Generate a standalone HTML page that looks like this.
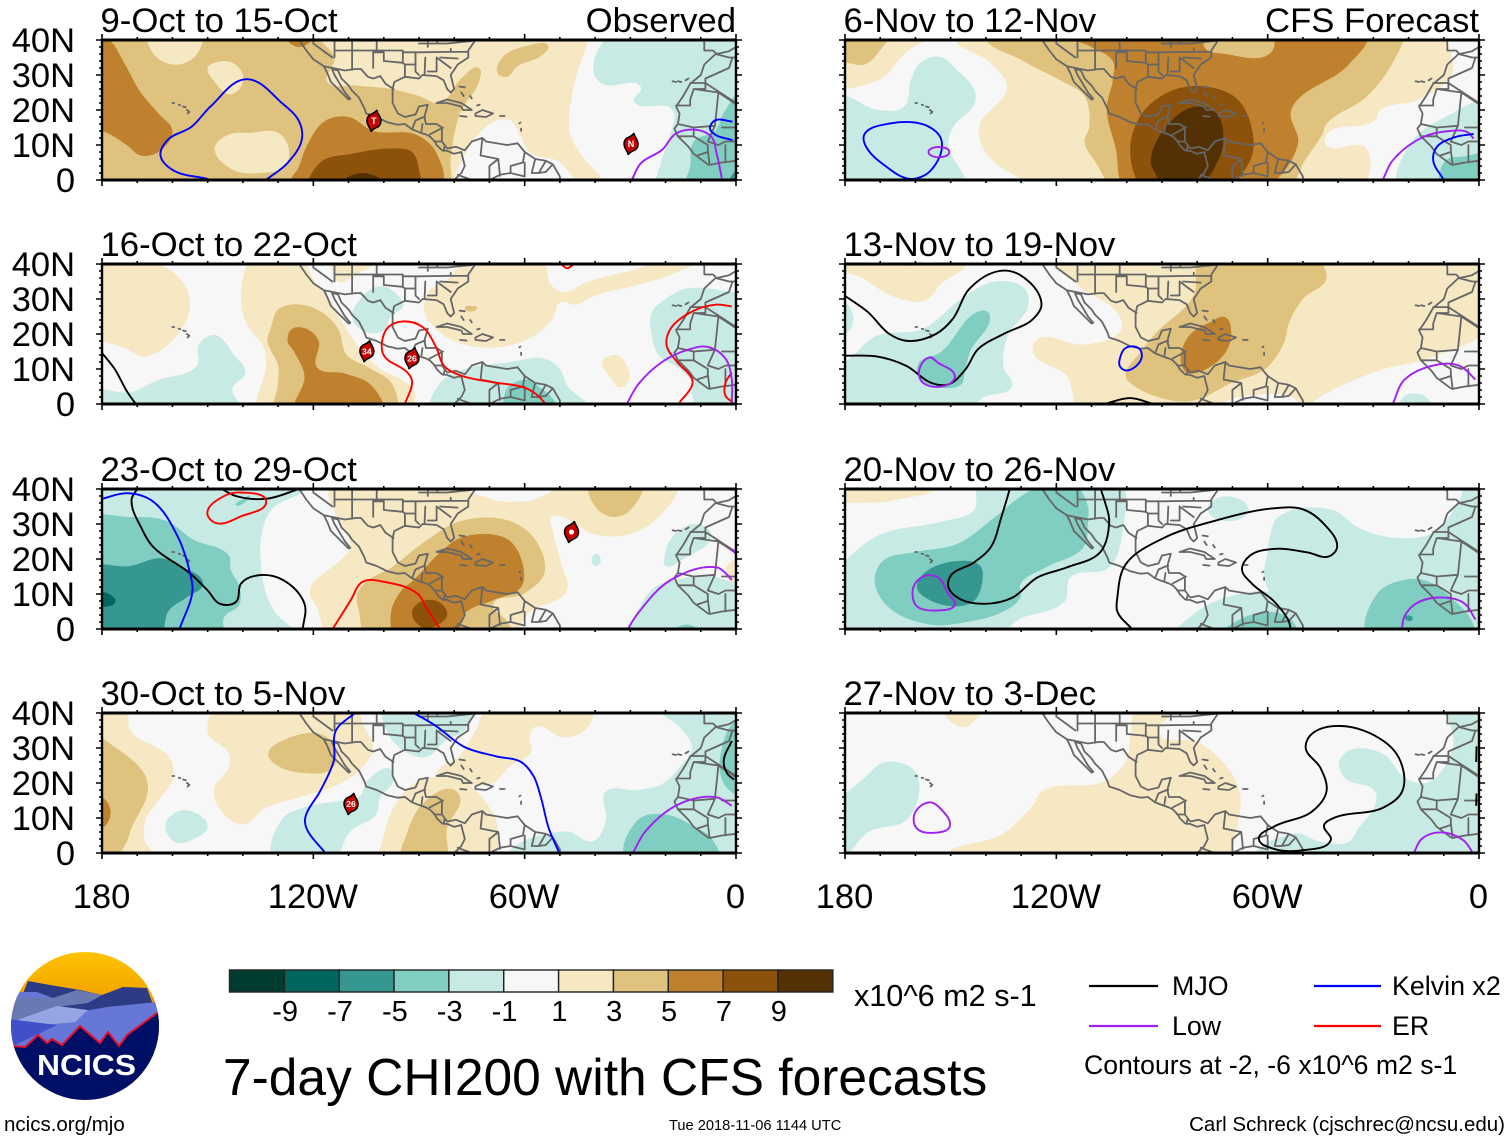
<!DOCTYPE html>
<html lang="en">
<head>
<meta charset="utf-8">
<title>7-day CHI200 with CFS forecasts</title>
<style>
html,body{margin:0;padding:0;background:#fff;width:1510px;height:1141px;overflow:hidden}
svg{display:block}
text{font-family:"Liberation Sans",Arial,sans-serif;fill:#000}
</style>
</head>
<body>
<svg id="chart" xmlns="http://www.w3.org/2000/svg" width="1510" height="1141" viewBox="0 0 1510 1141">
<defs>
<clipPath id="logo-clip"><circle cx="85" cy="1026" r="74"/></clipPath>
<linearGradient id="sun" x1="0" y1="0" x2="0" y2="1"><stop offset="0" stop-color="#ffc400"/><stop offset="0.3" stop-color="#f2a500"/><stop offset="0.35" stop-color="#e08a10"/></linearGradient>
</defs>
<g>
<g clip-path="url(#logo-clip)">
<rect x="10" y="950" width="150" height="152" fill="url(#sun)"/>
<polygon points="28,981 50,985 80,990 102,995 123,987 147,988 162,1030 8,1030" fill="#2d3a85"/>
<polygon points="20,992 37,992 53,998 15,999" fill="#6677d4"/>
<polygon points="15,998 53,998 77,990 102,995 88,1003 57,1007 17,1020 8,1021" fill="#6b79b3"/>
<polygon points="8,1022 50,1017 90,1010 107,1007 157,1002 162,1050 8,1052" fill="#6677d8"/>
<polygon points="17,1020 57,1006 88,1010 75,1022 43,1025" fill="#97a4e4"/>
<polygon points="8,1019 57,1025 15,1045 8,1048" fill="#3f50c8"/>
<polygon points="8,1046 13,1046 25,1047 38,1035 47,1043 52,1039 62,1045 80,1026 100,1043 108,1032 119,1046 127,1035 157,1013 165,1008 165,1105 8,1105" fill="#000f66"/>
<polyline points="13,1046 25,1047 38,1035 47,1043 52,1039 62,1045 80,1026 100,1043 108,1032 119,1046 127,1035 157,1013" fill="none" stroke="#e8102a" stroke-width="2"/>
</g>
<text x="37" y="1075" font-size="29" font-weight="700" textLength="99" lengthAdjust="spacingAndGlyphs" style="fill:#fff">NCICS</text>
</g>
<text x="4" y="1131" font-size="20.5">ncics.org/mjo</text>
<text x="223" y="1095" font-size="51.5">7-day CHI200 with CFS forecasts</text>
<text x="669" y="1130" font-size="14.65">Tue 2018-11-06 1144 UTC</text>
<text x="1505" y="1131" font-size="20.5" text-anchor="end">Carl Schreck (cjschrec@ncsu.edu)</text>
<text x="854" y="1006" font-size="30.6">x10^6 m2 s-1</text>
<g>
<line x1="1089" y1="986" x2="1158" y2="986" stroke="#000" stroke-width="2.2"/>
<text x="1172" y="995" font-size="26.8">MJO</text>
<line x1="1314" y1="986" x2="1381" y2="986" stroke="#0000ff" stroke-width="2.2"/>
<text x="1392" y="995" font-size="26.8">Kelvin x2</text>
<line x1="1089" y1="1026" x2="1158" y2="1026" stroke="#a020f0" stroke-width="2.2"/>
<text x="1172" y="1035" font-size="26.8">Low</text>
<line x1="1314" y1="1026" x2="1381" y2="1026" stroke="#ff0000" stroke-width="2.2"/>
<text x="1392" y="1035" font-size="26.8">ER</text>
<text x="1084" y="1074" font-size="26.6">Contours at -2, -6 x10^6 m2 s-1</text>
</g>
</svg>
<script>
// All longitudes in fills, lines and storms are degrees east of the dateline:
// 0 = 180, 60 = 120W, 120 = 60W, 180 = 0. Latitudes are degrees north.
const panelTitles = ["9-Oct to 15-Oct","16-Oct to 22-Oct","23-Oct to 29-Oct","30-Oct to 5-Nov","6-Nov to 12-Nov","13-Nov to 19-Nov","20-Nov to 26-Nov","27-Nov to 3-Dec"];
const panelTags = ["Observed","","","","CFS Forecast","","",""];
const latTicks = [0,10,20,30,40];
const latTickLabels = ["0","10N","20N","30N","40N"];
const lonTicks = [0,60,120,180];
const lonTickLabels = ["180","120W","60W","0"];
const bandEdges = [-9,-7,-5,-3,-1,1,3,5,7,9];
const bandColors = ["#003c30","#01665e","#35978f","#80cdc1","#c7eae5","#f7f7f7","#f6e8c3","#dfc27d","#bf812d","#8c510a","#543005"];
const colorbarLabels = ["-9","-7","-5","-3","-1","1","3","5","7","9"];
const lineColors = {mjo:"#000000",kelvin:"#0000ff",low:"#a020f0",er:"#ff0000"};

// Each filled region: [band value, [lon,lat, lon,lat, ...]]
const fillsOct09 = [
[2,[-10,50,140,50,138,40,134,27,133,13,137,6,142,0,143,-8,-10,-8]],
[0,[101,-3,104,9,111,16.5,116,17,118.5,13,122,7.5,130,5,134,-3]],
[-2,[145,42,139.5,31,142,27.5,153,26.5,151,22.5,162,20,161,12,159,6,158,-3,190,-3,190,42]],
[-4,[182,25,177,20,174,14,168,11,167,4,166,-3,190,-3]],
[-6,[178,-3,180,3,185,6,185,-3]],
[4,[-10,50,57,50,62,40,66,35,64,28,72,27,82,26,90,24,96,22,102,29,107,32,107,28,102,20,100,13,99,6,98,-3,-10,-3]],
[4,[112.3,30.5,113.7,35,120.5,38.3,126.7,38.3,124.7,35.5,117.8,32.4,115,29.5]],
[2,[13,43,14,37,17,34,22,33,27,36,28,43]],
[2,[30,32,32,33.5,37,33.5,40,30,39,26,36,24.5,32,28]],
[2,[32,9,36,13,42,13.5,50,13.5,53,9,52,4,45,2,37,3]],
[6,[-5,42,2,40,6,34,11,25,16,19,20,14,16,8,11,7,7,10,0,14,-5,14]],
[6,[53,-3,56,4,58,9.5,63.5,17,70,18,77,14,89,13,94.5,8.5,96,-3]],
[6,[52,42,56,38,60,42]],
[8,[59,-3,62,5,71,7.5,82.5,9,88,8,90,3,90,-3]],
[10,[68,-2,74,2,80,-2]]
];
const fillsOct16 = [
[2,[-5,42,13,41,22,36,25,29,23,22,12,13.5,6.5,16,-5,21]],
[2,[43,42,56,42,61,34,64.6,30,67,25.5,71,19,74,15,79,10,85,7,88.5,4,87,-3,44,-3,44,1.5,46.5,10,46,16,41,23,39.5,31]],
[2,[105,42,125,41,127.5,34,131,32,138,35,150,38,169,41.5,164,38,152,34,140,31,134.6,28.4,130,29,128,24.5,123,19.7,113.6,16.3,101.7,17.3,95.7,20.7,91.5,26.4,92.7,32,98,35.6]],
[2,[66,42,78,42,72,37,67,35]],
[2,[142,12,146,14,149,11,149.5,6.5,147,4.8,144,8]],
[4,[103,27.5,105,28,106.5,27.5,104.5,26.4]],
[4,[49.5,-3,50,6,50,11,47,18,48,22,50,27,55,28.5,62,26.5,67,21.5,69.5,14,75.5,10.5,82.5,5.5,83,-3]],
[6,[55,-3,57.5,8,54.5,15,52.7,18,54,21.5,58,21.5,61.5,18,61,10.5,69,8.7,76.5,5.3,79.5,-3]],
[-2,[-5,3,8.5,3.5,15.5,6.7,27,11,27.5,17,32,19.7,37.5,14,40.7,9,37,4.3,40,-3,-5,-3]],
[-2,[71,24.5,72.5,29,79,33.7,84.5,30.5,85.5,28,82,25,80,21,75,20.5]],
[-2,[93.5,-3,96,6,101.7,9.6,116,12,125.6,13,130,10,132,5.3,139,-3]],
[-2,[156,26,160,30,166,33,180,32,190,32,190,-3,170,-3,167.5,3,167.5,6,164,10,158,14,156,20]],
[-4,[114,1,115,4.5,118,6.5,121,7,124,5,128,1.5,130,-3,114,-3]]
];
const fillsOct23 = [
[-2,[-5,42,58,42,48,34,45.5,28,45,20,46.6,10,49,5,55,-3,-5,-3]],
[-4,[-5,31,8,32,18,31,26,25.5,36,21,36.5,17,39,12,39,7,34.7,3.4,34,-3,-5,-3]],
[-4,[38,35.5,40,37,42,38,41,36.5]],
[-6,[-5,17,8,18,16.7,20.2,22.7,17.8,28.7,13,24,9,19,5.3,16,-3,-5,-3]],
[-8,[-3,10,2,10,3.8,7.7,0,6.2,-3,6]],
[-2,[149,-3,152,5,157,12,165,14.5,172,15.5,177,14,185,12,185,-3]],
[-2,[159.7,20.6,162,26.4,168.5,30,173,27,165,20,160,18]],
[-2,[139,20,140.5,21.5,141.5,19,140,18]],
[-4,[162,-2,166,1.3,170,-2]],
[2,[180,20,177,17,178,14,185,14,185,20]],
[2,[65,42,67,31,70.6,23.5,68,20,59,11,61,6,65,-3,116,-3,121,4.5,132,11,130.4,18.5,128,28,127.5,32,130.5,32,140,27,149.5,27,158,32,163,42]],
[0,[103,42,111,37,118,36.4,124,37.4,129,42]],
[4,[138.5,42,140,35,145,32,150,34,153,42]],
[4,[72.4,9.6,74.8,13.3,82.5,17.8,91,24.5,101.7,30.8,116,30.8,123,25.5,125.6,16,119.6,10,111,7,114.8,2.4,117,-3,75.4,-3,73,5]],
[6,[82,4.3,85,11,88.5,14,95.7,21.6,101.7,26,111,27,116,25,119.6,17.8,119,12,111,8.2,102.9,4.3,100.5,-3,83.7,-3]],
[8,[88,4.8,91,8,95.7,7.7,98,4.3,95.7,1.4,91,0.5]]
];
const fillsOct30 = [
[2,[-5,42,6.6,42,8,35,19,27.5,20.3,21.6,16,15,12.6,10,12,4,15,-3,-5,-3]],
[2,[33,42,30,34.5,36,28.4,36,24.5,31.7,17.8,34.7,11,40,8.2,46.6,13,56,15.9,68,20,74,24.5,77,30,74,37,72,43]],
[2,[110,42,139,42,138,36,131.6,33,123,36,121.4,33,122,29,116,25,111,20,103,19.5,95,22,101.7,28,106,35]],
[2,[79.5,-3,80,5,84,15,91,21,103,20,110,13,112.4,7,110,-3]],
[4,[85.5,-3,86.7,6,91,14,99.3,18.3,101.7,15.9,98,7.2,97,-3]],
[4,[-5,37,0,33,12,22.6,13,17.8,8.4,7.2,6.6,2.4,2,-3,-5,-3]],
[6,[-3,16,0,16,2.4,12,0.6,7.5,-3,7]],
[4,[47.2,28.4,52.6,32.7,62,34,65.7,31,65.7,24.5,56,23,49,25.5]],
[-2,[18,8,22,12,26.5,11.5,30,7.5,26,4,21,3]],
[-2,[49,-3,51.4,10,57.4,13,68,15,73,16,75.4,20.7,82,24,82.5,20,79,16,77.8,11,70.6,6.2,65,-3]],
[-2,[80,42,81.3,34,86,29,92,27.4,98,32.5,103,35,105,42]],
[-2,[16,42,19,39.5,22,42]],
[-2,[115,-3,131.6,6.2,139.4,3.4,143,9,143,17.5,152,18,159,19.7,164,24.5,167.5,30,164,36,157,43,190,43,190,-3]],
[-4,[185,40,179,37,176,30,175.5,23,178,18,185,16]],
[-4,[149,-3,152.3,9.6,160,11,168.7,7.2,173,4.3,175,-3]]
];
const fillsNov06 = [
[2,[-5,28,9.4,28.5,18,37,22.5,39.5,30,42,-5,42]],
[2,[31,42,41.8,33,46,26.6,38,15,41,6.5,62,-3,146,-3,148,9,136.7,10,136.7,13,150.4,17,152,20,163,23,172.5,31,168,42]],
[4,[-5,42,12,42,9.5,36.5,5.6,33,0,33.5,-5,33]],
[-2,[-5,25,0,24.2,9.4,20,16.8,21,18.7,28.5,21.2,33.3,26.8,35.2,31.8,31.4,36.8,25.6,36.8,21.8,30.6,15,29.3,10.3,33.7,-3,-5,-3]],
[-2,[157.5,-3,161,11,170.4,18,185,22,185,-3]],
[-4,[169.8,-3,170.4,5.5,175.4,6.7,185,7,185,-3]],
[4,[40,42,50.6,34,62,28,68,24,69.3,15,68,11,71.2,5,77,-3,125.5,-3,130.5,5.5,135.5,13,136.7,16,148,23.7,156,34.5,158,42]],
[6,[64,42,70,38,76,34,76,28.5,74.3,20.3,76.8,9.4,80,-3,118,-3,128.6,10.3,126.7,20,143,33,148,42]],
[4,[103,42,102,38,108,36,121,36.5,121,42]],
[8,[81,7.5,84.3,19,93,25.6,103,26.6,111.7,22.8,116,11.3,115,5.5,107,-3,85.5,-3]],
[10,[86.8,5.5,91.8,16,99.3,20.9,105.5,19,107.4,11.3,105.5,4.6,99.3,-3,91.8,-3,88,2]]
];
const fillsNov13 = [
[2,[-5,42,35,42,27,34,23,29.6,14,30.6,4.2,36.3,-5,40]],
[2,[60,42,66,34,77.3,26,78.5,21.4,67.7,17,54.6,18.5,53.4,14.7,63,8,67,-3,104,-3,107.3,0.3,117,2.7,126.5,2.2,131.3,-1,133.7,1.2,153,10,165,12.8,185,24,185,42]],
[4,[101,42,133,42,136.7,36,130,30,126,23,124.7,17.6,119.3,10,109.7,6,99,1,91.7,1.2,81,6,79.7,8,84,15,88,20,99,31]],
[4,[14,42,18,39.5,23,42]],
[6,[95.3,12.8,97.7,19.5,103.7,23.4,108,24.8,109.7,20.5,108,14.7,101.3,9.4,97.1,9]],
[-2,[-5,10,0,12,9,19.5,22,21.4,33,30,42.6,35,51,33,52,28,46.2,19.5,45,10.8,47.4,5,39,1.7,35,-3,-5,-3]],
[-2,[-3,29,0,29,2.4,24,0,20,-3,20]],
[-2,[157.5,-3,158.5,2,162,3,165.5,1.5,166.5,-3]],
[-4,[21,11.8,27,14.7,39,26.7,41,25.7,35.4,14.7,34,8.9,33,5.6,28,4.6,21,7.5]]
];
const fillsNov20 = [
[2,[-5,42,26,42,15,37,0,36,-5,36]],
[-2,[-5,14,0,19.5,10,27,27,30.6,36.6,34,38,42,78,42,79,29.5,75,17.6,64,14.7,62.4,8,47.4,1.2,46,-3,-5,-3]],
[-2,[103,34,107,37.8,114.5,34.4,111,31]],
[-2,[120.5,26,123,32,138.5,34,145.7,29,156.5,26,167,27.5,174.5,37,177,43,190,43,190,-3,132,-3,125,3,121.8,8,119,15,120,22]],
[-2,[94,-3,100,5,112,10,122,10,127,3,130,-3]],
[-4,[8.4,13.7,10.8,19.5,20,22,31.8,24.3,42.6,32,49.8,37.8,55.8,41,65.4,41,69,35,69,31,67.7,23.4,57,17.6,49.8,12.8,49.8,9,45,5,33,1.7,24.6,1.2,12.6,6]],
[-4,[106.7,-3,112,2.7,123,4.6,127.8,1.2,128,-3]],
[-4,[148.7,-3,151,10,157.7,13.8,165,13.8,172,9,178,2.2,178.7,-3]],
[-6,[20.4,11.8,22.2,15.7,33,19.5,38.4,18,39,13.8,36.6,8,30.6,6.5,22.2,9.4]],
[-6,[159,3.5,161,3.5,161,2.5,159.5,2.5]]
];
const fillsNov27 = [
[-2,[-5,-3,0,-1,6.6,6,17.4,9.4,21,16.8,19.8,23.4,11.4,26,5.4,21.4,0,17,-5,15]],
[-2,[116,-3,127.7,5.6,135,3.2,143,3.2,145.7,7,150.5,13.7,150.5,17.6,142,21.4,140.3,26.2,144,29.6,153,28.2,159,21.4,165,20,168.5,22.3,172.7,31,172,43,190,43,190,-3]],
[2,[28,42,33,36,36,37,38.5,42]],
[2,[28,-3,45,5.6,53.4,13.7,55.8,17.6,73.7,20.5,79.7,26,81,33,83.3,42,93,42,89,34,100,31.8,108.5,24.5,112,17.6,112,11,106.7,-3]]
];
const panelFills = [fillsOct09,fillsOct16,fillsOct23,fillsOct30,fillsNov06,fillsNov13,fillsNov20,fillsNov27];

// Each contour: [wave type, closed(1)/open(0), [lon,lat, ...]]
const linesOct09 = [
["kelvin",0,[30,0.3,20,2.9,16.6,7,18.6,11.4,25.4,15.2,30.8,21,41,28.8,51.2,21.9,56,16.7,56.7,11.4,52.6,4.8,46.5,0]],
["kelvin",0,[179,16.7,174,17,172.6,14.8,174,13,179,11.4]],
["low",0,[150.4,0,153,4.8,159,8.6,163,13.3,169,14.3,173,12.4,174.5,7.6,176,0.5]]
];
const linesOct16 = [
["mjo",0,[0,14.6,3.6,10,7.2,3.4,9.6,0]],
["er",0,[86,0,88,6.7,86.7,9,80,13.9,79.5,17.8,81.3,22,85.5,23.6,91,22,95,15.9,97,11,101.7,8.2,111,6.2,119.6,4.8,123,3,126,0]],
["er",0,[130.4,40,132,38.8,134,40]],
["er",0,[178.8,27.9,174.5,28.4,167.5,26.4,161.5,21.6,160.3,16.8,163.3,12,167.5,7.2,167.5,5.3,164,0.5]],
["er",0,[178.8,9,177,6,177,2.4,179,0.5]],
["low",0,[149,0,152,5.3,159,12,166,15.4,172,16.3,177,13,178.8,7,178.8,0.5]]
];
const linesOct23 = [
["mjo",0,[10,40,8.4,37,11.4,28.4,14.4,23.6,25,15.9,30,11,33.5,7.2,38,7.7,39.5,13,44,15.3,51.4,14,57.5,7.2,57,0]],
["mjo",0,[34,40,38,38,46.6,37.2,56,40]],
["kelvin",0,[0,37.2,7.2,38.8,14.4,36.5,21.5,26.4,25,15.9,25.7,11,22,0]],
["er",1,[29.9,33.2,34.7,38,39.5,39,46.6,36.5,39.5,32.2,32.3,30.3]],
["er",0,[65.5,0,70.6,8.2,74,13.5,80,13.5,89.7,10,92,6.2,95.7,0.5]],
["low",0,[149.3,0,152,4.3,161.5,14,174.6,17.6,177,16,178.8,14]],
["low",0,[178.5,23,180,21.5]]
];
const linesOct30 = [
["kelvin",0,[63.4,0,58,7.2,57.7,10,62,17.8,65.8,26.4,66.4,35,71.8,40]],
["kelvin",0,[88.5,40,94.5,36.5,102.9,30.3,112,27.6,119,26,122.5,22,124.6,15.9,126.8,7.2,129.8,0]],
["mjo",0,[178.8,32,176.5,26.4,177.6,22.6,179.4,21]],
["low",0,[150.7,0,154.3,6.2,163.9,14,174.6,15.9,178.8,13.5]]
];
const linesNov06 = [
["kelvin",1,[18.7,0.3,12,3.6,5.6,10.3,5.6,13.2,11.9,16,23,15.6,27.4,11.3,24.3,2.7]],
["low",1,[23.7,8,26.2,9.4,29.6,8,26.2,6.5]],
["low",0,[152.7,0,155.4,5.5,164,12.2,171.7,14,176.7,13.7,178.5,11.8]],
["kelvin",0,[169.8,0.3,167,5.5,168,9.4,173,12.2,178.5,13.2]]
];
const linesNov13 = [
["mjo",0,[0,30.9,6.6,26.2,12.6,20,18,18,25.8,20,30.6,24.3,35.4,33,43.8,38,49.8,36.8,55.8,28.7,53.4,24.3,45,20,37.8,15.7,34.2,9.9,29.4,5.6,24.6,6,17.4,10.9,9,13.6,0,13.8]],
["mjo",0,[73.7,0,81,1.7,87.5,0]],
["low",1,[21,9.4,24,13.3,26.4,11.8,31.2,8,29.4,5.6,22.2,6]],
["kelvin",1,[78,12.8,79.7,16,83.3,16,84.3,13.8,82.7,10.9,79.7,9.6,78,10.9]],
["low",0,[155.5,0,158.9,7,168.5,11.3,174.5,10.9,179,7]]
];
const linesNov20 = [
["mjo",0,[46.8,40,44.4,32,41.4,23.4,36.6,19,30,15.2,29.4,11.8,33,8.4,40,7.2,47.4,8.9,54.6,14.7,63,17.6,72.5,22,75,31,73.8,36.3,72.6,40]],
["mjo",0,[81.5,0,77.3,5,77.3,8.9,79.7,18.5,90.5,26,104.9,30.9,121.7,34.5,130,34.2,136,30,139.7,23.4,137.3,20.7,131.3,21.9,121.7,22.9,115,21,112.7,17,115.7,12.8,121.7,8,126,2.2,126.5,0]],
["low",1,[19.8,12.8,22.8,15.2,26.4,14.7,29.4,9.9,31.2,7,25.8,5.3,20.4,6.5,19.2,9.4]],
["low",0,[158.1,0,158.8,3.5,162,7.2,168.5,9,175.6,7.5,179,2.7]]
];
const linesNov27 = [
["low",1,[19.8,11.3,24,14.5,27,12.8,29.7,7.5,25.8,5.8,20.4,7]],
["low",0,[161.5,0,163.7,4,169,5.9,175.6,3.6,178.3,0]],
["mjo",1,[140.9,36.3,152.9,32,157.7,26.2,158.2,17.6,152.9,13,138.5,9.9,136,7.9,137.9,3.6,130,0.8,121.7,1.2,117.5,4,121.7,7.5,132.5,11.8,136.7,17.6,135,24.3,130.8,30,132.5,34]],
["mjo",0,[179.3,30.5,179.2,26]],
["mjo",0,[179.3,17,179.2,13.5]]
];
const panelLines = [linesOct09,linesOct16,linesOct23,linesOct30,linesNov06,linesNov13,linesNov20,linesNov27];

// Tropical cyclone symbols: [lon, lat, label]
const stormsOct09 = [[77.2,16.9,"T"],[150.2,10.3,"N"]];
const stormsOct16 = [[75.2,15.1,"34"],[88,13.1,"26"]];
const stormsOct23 = [[133.3,27.7,"O"]];
const stormsOct30 = [[70.7,14,"26"]];
const panelStorms = [stormsOct09,stormsOct16,stormsOct23,stormsOct30,[],[],[],[]];

// Map outlines in true degrees west (negative = east of Greenwich)
const coastNorthAmerica = [[125,41,124,40,122,37,120,34.5,117,32.5,116,30.5,115,28,114,27,112,25,110,23,109.5,23.2,111,25,112.5,27.5,114,30,114.7,31.7,113,31.3,112,29,110,27,109,25.5,107,23.5,105.5,20.5,105,19,102,18,99,16.5,96,15.8,94,16,92,14.5,90,13.7,88,13,87,12.5,85.5,11,85,10,83.5,8.5,82,8.3,80,7.5,78,8,77.5,6,77,4,78,2,80,0,80.5,-2],
[77,8.5,79.5,9.5,82,9,83.5,11,83.5,15,85,16,88,16,88.5,18,87.5,21.5,90,21,91,18.7,94,18,96,19,97.5,22,97.5,26,97,28,94,29.5,90,29,89,30,85,29.7,83,28.5,82,26,81,25,80,26,81,30,79,33,76,35,76,37,74,40,70,41.5],
[77,8.5,75,11,72,12,71,11,68,10.5,65,10,62,10.5,60,8,57,6,54,5.5,52,4.5,50,1,50,-2]];
const coastIslands = [[85,22,82,23,78,22,75,20,77.5,20,78,21,82,22,85,22],[74,19,72,20,69,19,71,18,74,18.3,74,19],[78.3,18.3,76.5,18.1],[67,18.3,65.7,18.3],[78.5,26.7,77,26.5],[78,25,77.3,24],[75.5,24,75,23.3],[73.5,21.3,72.8,21.5],[61.5,16.2,61.2,16.4],[61,14.7,61,14],[160,22,159.5,22],[158.2,21.5,157.8,21.4],[157,21,156.2,20.8],[155.9,20,155.2,19.5,155.7,19],[18,28.2,17,28],[16.5,28.2,15.5,28],[14.3,28.5,13.5,29]];
const bordersAmericas = [[117,32.5,111,31.3,108,31.7,106.5,31.7,104.5,29.5,103,29,101,29.7,99.5,27.5,97.2,26],[92,14.5,91,17,89,17.9,88.2,18],[89,16,89.3,14],[83.2,15,87,13],[83.7,11,85.7,11],[82.8,9.5,83,8.3],[124,42,120,42,120,39,114.6,35],[114,42,114,35],[109,42,109,31.5],[102,42,102,37],[103,37,103,32],[114,37,94.6,37],[94.6,37,94.6,33.5,94,33,94,29.6],[103,36.5,100,36.5,100,34,94.6,33.5],[94.6,36.5,90,36.5,82,36.6,76,36.6],[91,36.5,91,33,94,33],[91,33,91,31,90,30],[88.2,35,88.4,30.3],[85,35,85,31,87.5,31],[81,32,85,35],[84,35,79,34.7],[90,39,82,39,75,39.7],[87.5,41,87.5,38],[84.8,40,84.8,39],[81,37.5,81,36.6],[72,12,72.5,7,67.5,6,67,1.2],[60,8,60.5,5,64,4,64,2],[57,6,58,2,56,2,54,5.5],[52,4.5,54,2.3,56,2],[79,1.5,75,0],[70,-2,70,4,67.5,6],[60,5,60,1,64,2,67,1.5,70,0]];
const coastAfrica = [[9.3,43,9,39,9,37,6.5,37,5.5,36,2,36.8,0,38,0,40,-3,42],[5.8,36,9,33,10,30,13,27.5,15,24,17,21,16,19,16.5,16,17.5,14.7,16.5,12.5,15,11,13.5,9.5,12,7.5,8,4.5,7.5,4.3,4,5,0,5.5,-3,6],[5.8,36,2,35,-1,35,-4,37]];
const bordersAfrica = [[13,27.7,8.7,27.7,8.7,29,2,32,1,35],[17,21.3,13,21.3,13,23,12,26,8.7,26,8.7,27.7],[12,26,5,25,6,15.5,12,15,16.5,16],[8.7,27.7,0,22],[5,25,-4,19,-4,15,0,15,4,15],[6,15.5,8,11,5,10,3,11,0,11,-3,12],[12,15,12,12.5,16.5,12.5],[12,12.5,8,10,8,8,11,7],[8,8.5,7.5,4.5],[3,5,3,10],[0,5.5,0,11],[-3,6,-3,12]];

const svgNS = "http://www.w3.org/2000/svg";
const chart = document.getElementById("chart");
const panelWidth = 634, panelHeight = 140;
const colLeft = [102,845];
const rowTop = [40,264,489,713];

function mk(tag, parent){
  const el = document.createElementNS(svgNS, tag);
  parent.appendChild(el);
  return el;
}
function xScale(lon, x0){ return x0 + lon / 180 * panelWidth; }
function yScale(lat, y0){ return y0 + panelHeight - lat / 40 * panelHeight; }
function bandColor(v){
  let i = 0;
  while (i < bandEdges.length && v > bandEdges[i]) i++;
  return bandColors[i];
}
function unit(a, b){
  const dx = b[0] - a[0], dy = b[1] - a[1];
  const len = Math.hypot(dx, dy) || 1;
  return [dx / len, dy / len];
}
function tangent(a, b, c){
  const u = unit(a, b), v = unit(b, c);
  const tx = u[0] + v[0], ty = u[1] + v[1];
  const len = Math.hypot(tx, ty) || 1;
  return [tx / len, ty / len];
}
function smoothPath(pts, closed, x0, y0){
  const p = [];
  for (let i = 0; i < pts.length; i += 2) p.push([xScale(pts[i], x0), yScale(pts[i+1], y0)]);
  const n = p.length;
  if (n < 3) return "M" + p.map(q => q[0].toFixed(1) + "," + q[1].toFixed(1)).join("L");
  const at = i => closed ? p[(i + n) % n] : p[Math.max(0, Math.min(n - 1, i))];
  let d = "M" + p[0][0].toFixed(1) + "," + p[0][1].toFixed(1);
  const segs = closed ? n : n - 1;
  for (let i = 0; i < segs; i++){
    const a = at(i-1), b = at(i), c = at(i+1), e = at(i+2);
    const len = Math.hypot(c[0]-b[0], c[1]-b[1]) / 3;
    const t1 = tangent(a, b, c), t2 = tangent(b, c, e);
    d += "C" + (b[0]+t1[0]*len).toFixed(1) + "," + (b[1]+t1[1]*len).toFixed(1) + " " +
         (c[0]-t2[0]*len).toFixed(1) + "," + (c[1]-t2[1]*len).toFixed(1) + " " +
         c[0].toFixed(1) + "," + c[1].toFixed(1);
  }
  return d + (closed ? "Z" : "");
}
function mapPath(lists, x0, y0){
  let d = "";
  lists.forEach(function(pts){
    for (let i = 0; i < pts.length; i += 2){
      d += (i ? "L" : "M") + xScale(180 - pts[i], x0).toFixed(1) + "," + yScale(pts[i+1], y0).toFixed(1);
    }
  });
  return d;
}
function drawAxes(g, x0, y0, showBottom, showLeft){
  let d = "";
  for (let lon = 0; lon <= 180; lon += 10){
    const major = lonTicks.indexOf(lon) >= 0;
    const len = major ? 6 : 3;
    const x = xScale(lon, x0);
    d += "M" + x + "," + (y0 - len) + "V" + y0 + "M" + x + "," + (y0 + panelHeight) + "V" + (y0 + panelHeight + len);
  }
  for (let lat = 0; lat <= 40; lat += 2){
    const len = latTicks.indexOf(lat) >= 0 ? 6 : 3;
    const y = yScale(lat, y0);
    d += "M" + (x0 - len) + "," + y + "H" + x0 + "M" + (x0 + panelWidth) + "," + y + "H" + (x0 + panelWidth + len);
  }
  const ticks = mk("path", g);
  
  
  ticks.setAttribute("d", d);
  ticks.setAttribute("stroke", "#000");
  ticks.setAttribute("stroke-width", "1.6");
  ticks.setAttribute("fill", "none");
  const frame = mk("path", g);
  
  
  frame.setAttribute("d", "M" + x0 + "," + y0 + "H" + (x0 + panelWidth) + "M" + x0 + "," + (y0 + panelHeight) + "H" + (x0 + panelWidth));
  frame.setAttribute("stroke", "#000");
  frame.setAttribute("stroke-width", "3");
  const sides = mk("path", g);
  
  
  sides.setAttribute("d", "M" + x0 + "," + (y0 - 1) + "V" + (y0 + panelHeight + 1) + "M" + (x0 + panelWidth) + "," + (y0 - 1) + "V" + (y0 + panelHeight + 1));
  sides.setAttribute("stroke", "#000");
  sides.setAttribute("stroke-width", "2.4");
  if (showLeft){
    latTicks.forEach(function(lat, i){
      const t = mk("text", g);
      
      
      t.setAttribute("x", x0 - 27);
      t.setAttribute("y", yScale(lat, y0) + 12);
      t.setAttribute("font-size", "34.5");
      t.setAttribute("text-anchor", "end");
      t.textContent = latTickLabels[i];
    });
  }
  if (showBottom){
    lonTicks.forEach(function(lon, i){
      const t = mk("text", g);
      
      
      t.setAttribute("x", xScale(lon, x0) - 0.5);
      t.setAttribute("y", y0 + panelHeight + 55);
      t.setAttribute("font-size", "34.5");
      t.setAttribute("text-anchor", "middle");
      t.textContent = lonTickLabels[i];
    });
  }
}
function drawStorm(parent, s, x0, y0){
  const g = mk("g", parent);
  
  
  g.setAttribute("transform", "translate(" + xScale(s[0], x0) + "," + yScale(s[1], y0) + ")");
  const body = mk("path", g);
  
  
  body.setAttribute("d", "M3,-11 C2.5,-8 7,-5 7,0 C7,4 5,6 2,7 C0,8 -2,9 -3,11 C-2.5,8 -7,5 -7,0 C-7,-4 -5,-6 -2,-7 C0,-8 2,-9 3,-11Z");
  body.setAttribute("fill", "#c80000");
  body.setAttribute("stroke", "#000");
  body.setAttribute("stroke-width", "1.5");
  if (s[2] === "O"){
    const hub = mk("circle", g);
    
    
    hub.setAttribute("r", "2.6");
    hub.setAttribute("fill", "#fff");
  } else {
    const t = mk("text", g);
    
    
    t.setAttribute("y", "3.2");
    t.setAttribute("font-size", s[2].length > 1 ? "8.5" : "9");
    t.setAttribute("font-weight", "700");
    t.setAttribute("text-anchor", "middle");
    t.style.fill = "#fff";
    t.textContent = s[2];
  }
}
function drawPanel(index){
  const col = index < 4 ? 0 : 1, row = index % 4;
  const x0 = colLeft[col], y0 = rowTop[row];
  const g = mk("g", chart);
  
  
  const clip = mk("clipPath", g);
  clip.setAttribute("id", "clip-" + index);
  const clipRect = mk("rect", clip);
  clipRect.setAttribute("x", x0);
  clipRect.setAttribute("y", y0);
  clipRect.setAttribute("width", panelWidth);
  clipRect.setAttribute("height", panelHeight);
  const body = mk("g", g);
  
  
  body.setAttribute("clip-path", "url(#clip-" + index + ")");
  const bg = mk("rect", body);
  
  
  bg.setAttribute("x", x0);
  bg.setAttribute("y", y0);
  bg.setAttribute("width", panelWidth);
  bg.setAttribute("height", panelHeight);
  bg.setAttribute("fill", bandColor(0));
  panelFills[index].forEach(function(f){
    const p = mk("path", body);
    
    
    p.setAttribute("d", smoothPath(f[1], true, x0, y0));
    p.setAttribute("fill", bandColor(f[0]));
  });
  const coast = mk("path", body);
  
  
  coast.setAttribute("d", mapPath(bordersAmericas.concat(bordersAfrica, coastNorthAmerica, coastIslands, coastAfrica), x0, y0));
  coast.setAttribute("fill", "none");
  coast.setAttribute("stroke", "#666");
  coast.setAttribute("stroke-width", "1.8");
  coast.setAttribute("stroke-linejoin", "round");
  coast.setAttribute("stroke-linecap", "round");
  panelLines[index].forEach(function(l){
    const p = mk("path", body);
    
    
    p.setAttribute("d", smoothPath(l[2], l[1] === 1, x0, y0));
    p.setAttribute("fill", "none");
    p.setAttribute("stroke", lineColors[l[0]]);
    p.setAttribute("stroke-width", "1.9");
  });
  panelStorms[index].forEach(function(s){ drawStorm(body, s, x0, y0); });
  drawAxes(g, x0, y0, row === 3, col === 0);
  const title = mk("text", g);
  
  
  title.setAttribute("x", x0 - 1.5);
  title.setAttribute("y", y0 - 8);
  title.setAttribute("font-size", "34.7");
  title.textContent = panelTitles[index];
  if (panelTags[index]){
    const tag = mk("text", g);
    
    
    tag.setAttribute("x", x0 + panelWidth);
    tag.setAttribute("y", y0 - 8);
    tag.setAttribute("font-size", "34.7");
    tag.setAttribute("text-anchor", "end");
    tag.textContent = panelTags[index];
  }
}
function drawColorbar(){
  const g = mk("g", chart);
  
  
  const x0 = 229.5, w = 54.85, y0 = 970, h = 22;
  bandColors.forEach(function(c, i){
    const r = mk("rect", g);
    
    
    r.setAttribute("x", x0 + i * w);
    r.setAttribute("y", y0);
    r.setAttribute("width", w);
    r.setAttribute("height", h);
    r.setAttribute("fill", c);
    r.setAttribute("stroke", "#222");
    r.setAttribute("stroke-width", "1.4");
  });
  colorbarLabels.forEach(function(lab, i){
    const t = mk("text", g);
    
    
    t.setAttribute("x", x0 + (i + 1) * w + 0.8);
    t.setAttribute("y", 1021);
    t.setAttribute("font-size", "29");
    t.setAttribute("text-anchor", "middle");
    t.textContent = lab;
  });
}
for (let i = 0; i < 8; i++) drawPanel(i);
drawColorbar();
</script>
</body>
</html>
